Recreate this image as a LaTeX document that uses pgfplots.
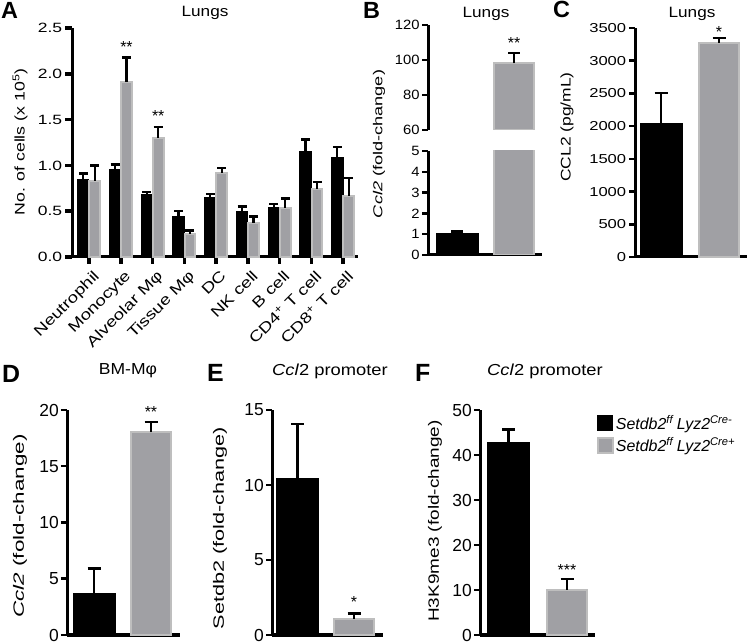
\documentclass[border=0pt]{standalone}
\usepackage{fontspec}
\setmainfont{Liberation Sans}
\usepackage{pgfplots}
\pgfplotsset{compat=1.18}
\definecolor{bargrey}{RGB}{160,160,164}
\definecolor{bargreyedge}{RGB}{190,190,190}
\pgfplotsset{
  gp/.style={
    scale only axis, anchor=south west,
    axis x line=bottom, axis y line=left,
    axis line style={line width=3bp, -},
    major tick style={line width=2.5bp, black},
    major tick length=6bp,
    tick align=outside,
    /pgf/number format/assume math mode=true,
    clip=false,
  },
  err/.style={
    /pgfplots/error bars/y dir=plus,
    /pgfplots/error bars/y explicit,
    /pgfplots/error bars/error bar style={line width=2.2bp, black},
    /pgfplots/error bars/error mark options={rotate=90, line width=2.5bp, mark size=#1, black},
  },
  err/.default=6bp,
  blackbar/.style={ybar, bar shift=0pt, fill=black, draw=black, line width=1bp},
  greybar/.style={ybar, bar shift=0pt, fill=bargrey, draw=bargreyedge, line width=2bp},
}
\newcommand{\fs}[1]{\fontsize{#1}{#1}\selectfont}
\begin{document}
\begin{tikzpicture}
\path[use as bounding box] (0,0) rectangle (748bp,644bp);

% ---------------- Panel A
\begin{axis}[gp, at={(72bp,387bp)}, width=286bp, height=229bp,
  xmin=-0.535, xmax=8.47, ymin=0, ymax=2.5,
  ytick={0,0.5,1,1.5,2,2.5},
  yticklabel style={font=\fs{13.5}, xscale=1.3, inner sep=2bp, /pgf/number format/.cd, fixed, fixed zerofill, precision=1},
  xtick={0,1,2,3,4,5,6,7,8},
  xticklabels={Neutrophil, Monocyte, Alveolar Mφ, Tissue Mφ, DC, NK cell, B cell, CD4\textsuperscript{+} T cell, CD8\textsuperscript{+} T cell},
  xticklabel style={font=\fs{15}, rotate=45, xscale=1.25, anchor=north east, inner sep=1bp, yshift=-5bp},
  major tick length=7bp,
  major tick style={line width=3.5bp, black},
]
\addplot[blackbar, bar width=0.36, err=4.5bp] coordinates {
 (-0.18,0.85) +- (0,0.06) (0.82,0.96) +- (0,0.05) (1.82,0.68) +- (0,0.03)
 (2.82,0.445) +- (0,0.055) (3.82,0.65) +- (0,0.04) (4.82,0.50) +- (0,0.05)
 (5.82,0.54) +- (0,0.04) (6.82,1.15) +- (0,0.13) (7.82,1.09) +- (0,0.11)};
\addplot[greybar, bar width=0.34, err=4.5bp] coordinates {
 (0.18,0.83) +- (0,0.17) (1.18,1.91) +- (0,0.27) (2.18,1.30) +- (0,0.12)
 (3.18,0.255) +- (0,0.035) (4.18,0.92) +- (0,0.05) (5.18,0.376) +- (0,0.064)
 (6.18,0.54) +- (0,0.10) (7.18,0.74) +- (0,0.08) (8.18,0.67) +- (0,0.19)};
\node[anchor=base, font=\fs{16}] at (axis cs:1.18,2.23) {**};
\node[anchor=base, font=\fs{16}] at (axis cs:2.18,1.48) {**};
\end{axis}

% ---------------- Panel B (broken axis)
\begin{axis}[gp, clip=true, at={(428bp,514bp)}, width=114bp, height=105bp,
  axis x line=none,
  xmin=0, xmax=114, ymin=60, ymax=120, xtick=\empty,
  ytick={60,80,100,120}, yticklabel style={font=\fs{13.5}, xscale=1.1, inner sep=2bp},
]
\addplot[greybar, bar width=40, err=6bp] coordinates {(86,98) +- (0,6)};
\node[anchor=base, font=\fs{16}] at (axis cs:86,106.3) {**};
\end{axis}
\begin{axis}[gp, clip=true, at={(428bp,389bp)}, width=114bp, height=104bp,
  xmin=0, xmax=114, ymin=0, ymax=5, xtick=\empty,
  ytick={0,1,2,3,4,5}, yticklabel style={font=\fs{13.5}, xscale=1.1, inner sep=2bp},
]
\addplot[blackbar, bar width=42, err=6bp] coordinates {(29,1.02) +- (0,0.1)};
\addplot[greybar, bar width=40] coordinates {(86,98)};
\end{axis}

% ---------------- Panel C
\begin{axis}[gp, at={(635bp,387bp)}, width=112bp, height=229bp,
  xmin=0, xmax=112, ymin=0, ymax=3500, xtick=\empty,
  ytick={0,500,1000,1500,2000,2500,3000,3500},
  yticklabel style={font=\fs{13}, xscale=1.28, inner sep=2bp, /pgf/number format/1000 sep={}},
]
\addplot[blackbar, bar width=42, err=6.5bp] coordinates {(26,2035) +- (0,470)};
\addplot[greybar, bar width=40, err=6.5bp] coordinates {(84,3270) +- (0,77)};
\node[anchor=base, font=\fs{16}] at (axis cs:84,3360) {*};
\end{axis}

% ---------------- Panel D
\begin{axis}[gp, at={(67bp,9bp)}, width=113bp, height=225bp,
  xmin=0, xmax=113, ymin=0, ymax=20, xtick=\empty,
  ytick={0,5,10,15,20}, yticklabel style={font=\fs{17.5}, inner sep=2bp},
]
\addplot[blackbar, bar width=42, err=6.5bp] coordinates {(27,3.7) +- (0,2.2)};
\addplot[greybar, bar width=40, err=6.5bp] coordinates {(84,18.0) +- (0,0.95)};
\node[anchor=base, font=\fs{16}] at (axis cs:84,19.3) {**};
\end{axis}

% ---------------- Panel E
\begin{axis}[gp, at={(272bp,9bp)}, width=111bp, height=225bp,
  xmin=0, xmax=111, ymin=0, ymax=15, xtick=\empty,
  ytick={0,5,10,15}, yticklabel style={font=\fs{17.5}, inner sep=2bp},
]
\addplot[blackbar, bar width=42, err=6.5bp] coordinates {(25.5,10.4) +- (0,3.65)};
\addplot[greybar, bar width=40, err=6.5bp] coordinates {(82,1.05) +- (0,0.4)};
\node[anchor=base, font=\fs{16}] at (axis cs:82,1.85) {*};
\end{axis}

% ---------------- Panel F
\begin{axis}[gp, at={(480bp,9bp)}, width=115bp, height=225bp,
  xmin=0, xmax=115, ymin=0, ymax=50, xtick=\empty,
  ytick={0,10,20,30,40,50}, yticklabel style={font=\fs{17.5}, inner sep=2bp},
  legend style={at={(1.015,0.985)}, anchor=north west, draw=none, fill=none,
    font=\fs{16}, inner sep=0pt, row sep=2bp, cells={anchor=west}},
  legend image code/.code={\draw[#1] (0bp,-7.5bp) rectangle (15bp,7.5bp);},
]
\addlegendimage{fill=black, draw=black, line width=1bp}
\addlegendentry{\textit{Setdb2}\textsuperscript{\textit{ff}}\,\textit{Lyz2}\textsuperscript{\textit{Cre-}}}
\addlegendimage{fill=bargrey, draw=bargreyedge, line width=2bp}
\addlegendentry{\textit{Setdb2}\textsuperscript{\textit{ff}}\,\textit{Lyz2}\textsuperscript{\textit{Cre+}}}
\addplot[blackbar, bar width=42, err=6.5bp, forget plot] coordinates {(28.5,42.8) +- (0,2.9)};
\addplot[greybar, bar width=40, err=6.5bp, forget plot] coordinates {(87,10.1) +- (0,2.3)};
\node[anchor=base, font=\fs{16}] at (axis cs:87,13.3) {***};
\end{axis}

% ---------------- Titles
\node[anchor=base, font=\fs{15}, xscale=1.15] at (205bp,627bp) {Lungs};
\node[anchor=base, font=\fs{15}, xscale=1.15] at (486bp,626bp) {Lungs};
\node[anchor=base, font=\fs{15}, xscale=1.15] at (692bp,626bp) {Lungs};
\node[anchor=base, font=\fs{16}, xscale=1.1] at (128bp,269bp) {BM-Mφ};
\node[anchor=base, font=\fs{16}, xscale=1.15] at (330bp,268bp) {\textit{Ccl}2 promoter};
\node[anchor=base, font=\fs{16}, xscale=1.15] at (545bp,268bp) {\textit{Ccl}2 promoter};

% ---------------- Panel letters
\node[anchor=base west, inner sep=0pt, font=\fs{23.5}\bfseries] at (1bp,625bp) {A};
\node[anchor=base west, inner sep=0pt, font=\fs{23.5}\bfseries] at (363bp,625bp) {B};
\node[anchor=base west, inner sep=0pt, font=\fs{23.5}\bfseries] at (553bp,626bp) {C};
\node[anchor=base west, inner sep=0pt, font=\fs{25}\bfseries] at (2bp,261bp) {D};
\node[anchor=base west, inner sep=0pt, font=\fs{25}\bfseries] at (207bp,262bp) {E};
\node[anchor=base west, inner sep=0pt, font=\fs{25}\bfseries] at (415bp,262bp) {F};

% ---------------- Y labels
\node[rotate=90, xscale=1.27, font=\fs{14}] at (20bp,502bp) {No. of cells (x 10\textsuperscript{5})};
\node[rotate=90, xscale=1.4, font=\fs{13}] at (379bp,500bp) {\textit{Ccl2} (fold-change)};
\node[rotate=90, xscale=1.25, font=\fs{14}] at (567bp,517bp) {CCL2 (pg/mL)};
\node[rotate=90, xscale=1.5, font=\fs{15}] at (20bp,118bp) {\textit{Ccl2} (fold-change)};
\node[rotate=90, xscale=1.45, font=\fs{15}] at (220bp,116bp) {Setdb2 (fold-change)};
\node[rotate=90, xscale=1.27, font=\fs{15}] at (435bp,123bp) {H3K9me3 (fold-change)};
\end{tikzpicture}
\end{document}
